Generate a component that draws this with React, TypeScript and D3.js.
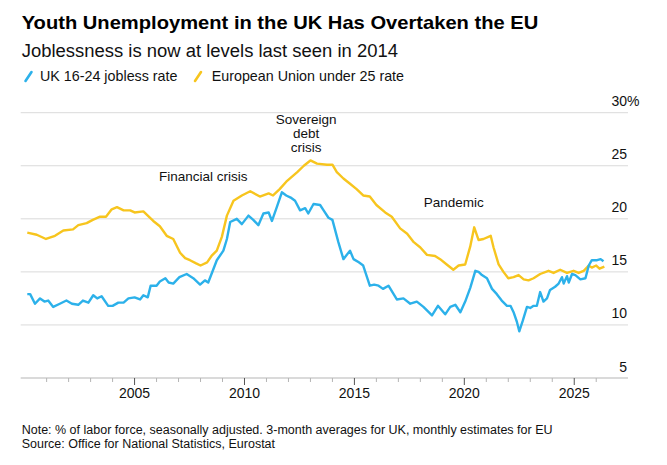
import * as d3 from 'd3'

// UK 16-24 jobless rate (decimal year, %)
const ukYears = [
  2000.12, 2000.25, 2000.47, 2000.7, 2000.9, 2001.07, 2001.3, 2001.6, 2001.9, 2002.15,
  2002.44, 2002.65, 2002.9, 2003.12, 2003.3, 2003.5, 2003.8, 2004.0, 2004.26, 2004.5,
  2004.72, 2005.0, 2005.25, 2005.4, 2005.6, 2005.73, 2006.0, 2006.15, 2006.4, 2006.55,
  2006.76, 2007.04, 2007.37, 2007.67, 2007.98, 2008.2, 2008.35, 2008.5, 2008.74, 2009.04,
  2009.2, 2009.35, 2009.65, 2009.88, 2010.18, 2010.4, 2010.63, 2010.86, 2011.1, 2011.25,
  2011.47, 2011.7, 2011.9, 2012.1, 2012.3, 2012.53, 2012.76, 2012.9, 2013.14, 2013.44,
  2013.6, 2013.82, 2014.0, 2014.27, 2014.5, 2014.8, 2014.96, 2015.2, 2015.4, 2015.7,
  2015.9, 2016.1, 2016.3, 2016.55, 2016.93, 2017.23, 2017.54, 2017.84, 2018.14, 2018.53,
  2018.8, 2019.13, 2019.36, 2019.59, 2019.82, 2020.04, 2020.27, 2020.5, 2020.65, 2020.8,
  2021.03, 2021.26, 2021.48, 2021.7, 2021.94, 2022.1, 2022.24, 2022.39, 2022.5, 2022.66,
  2022.85, 2023.0, 2023.15, 2023.3, 2023.45, 2023.6, 2023.76, 2023.9, 2024.13, 2024.29,
  2024.44, 2024.52, 2024.67, 2024.75, 2024.9, 2025.05, 2025.28, 2025.51, 2025.66, 2025.8,
  2026.04, 2026.2, 2026.33,
]
const ukRates = [
  12.9, 12.9, 12.0, 12.5, 12.2, 12.3, 11.7, 12.0, 12.3, 12.0,
  11.9, 12.3, 12.1, 12.8, 12.5, 12.7, 11.8, 11.8, 12.1, 12.1,
  12.5, 12.6, 12.4, 12.8, 12.6, 13.7, 13.7, 14.1, 14.4, 14.0,
  13.9, 14.5, 14.8, 14.4, 13.8, 14.2, 14.0, 14.8, 16.1, 17.0,
  18.1, 19.7, 20.0, 19.5, 20.3, 19.9, 19.4, 20.5, 20.6, 19.8,
  21.1, 22.5, 22.2, 22.0, 21.7, 20.8, 21.0, 20.5, 21.4, 21.3,
  20.8, 20.1, 19.9, 17.8, 16.2, 17.0, 16.2, 15.9, 15.6, 13.7,
  13.8, 13.7, 13.4, 13.7, 12.4, 12.5, 12.0, 12.2, 11.7, 10.9,
  11.8, 11.0, 11.7, 11.9, 11.2, 12.2, 13.5, 15.1, 15.0, 14.7,
  14.4, 13.4, 12.9, 12.3, 11.8, 11.8, 11.2, 10.3, 9.4, 10.4,
  11.7, 11.6, 11.8, 11.8, 13.1, 12.2, 12.5, 13.3, 13.6, 13.9,
  14.5, 13.9, 14.6, 14.0, 14.8, 14.7, 14.3, 14.4, 15.6, 16.1,
  16.1, 16.2, 16.0,
]

// European Union under 25 rate
const euYears = [
  2000.12, 2000.55, 2000.97, 2001.38, 2001.76, 2002.2, 2002.44, 2002.82, 2003.1, 2003.43,
  2003.7, 2003.96, 2004.2, 2004.5, 2004.8, 2005.0, 2005.4, 2005.6, 2005.85, 2006.15,
  2006.46, 2006.76, 2007.07, 2007.3, 2007.52, 2007.8, 2008.0, 2008.3, 2008.5, 2008.74,
  2008.97, 2009.2, 2009.5, 2009.88, 2010.26, 2010.7, 2011.1, 2011.3, 2011.6, 2011.9,
  2012.4, 2012.7, 2013.0, 2013.3, 2013.75, 2014.0, 2014.2, 2014.5, 2014.8, 2015.1,
  2015.4, 2015.7, 2016.0, 2016.4, 2016.7, 2017.08, 2017.4, 2017.7, 2018.0, 2018.3,
  2018.67, 2018.9, 2019.2, 2019.5, 2019.74, 2020.04, 2020.27, 2020.45, 2020.65, 2020.87,
  2021.2, 2021.33, 2021.56, 2021.78, 2022.0, 2022.24, 2022.47, 2022.7, 2022.92, 2023.15,
  2023.45, 2023.83, 2024.06, 2024.36, 2024.67, 2024.97, 2025.2, 2025.43, 2025.66, 2025.8,
  2026.0, 2026.15, 2026.37,
]
const euRates = [
  18.7, 18.5, 18.1, 18.4, 18.9, 19.0, 19.4, 19.6, 19.9, 20.2,
  20.2, 20.9, 21.1, 20.8, 20.8, 20.6, 20.7, 20.3, 19.8, 19.3,
  18.4, 18.1, 16.8, 16.3, 16.1, 15.8, 15.6, 15.9, 16.5, 17.0,
  18.3, 20.3, 21.7, 22.2, 22.6, 22.1, 22.4, 22.2, 22.8, 23.5,
  24.4, 25.0, 25.5, 25.2, 25.1, 25.1, 24.4, 23.8, 23.3, 22.8,
  22.2, 22.1, 21.3, 20.6, 20.2, 19.1, 18.6, 17.8, 17.3, 16.6,
  16.5, 16.2, 15.7, 15.2, 15.6, 15.7, 17.4, 19.2, 18.0, 18.1,
  18.4, 17.3, 15.7, 15.0, 14.4, 14.5, 14.7, 14.3, 14.2, 14.4,
  14.8, 15.1, 14.9, 15.2, 14.9, 15.1, 14.9, 15.1, 15.6, 15.4,
  15.6, 15.3, 15.5,
]

const yTicks = [10, 15, 20, 25, 30]
const yLabels = [5, 10, 15, 20, 25, 30]
const xLabels = [2005, 2010, 2015, 2020, 2025]
const minorYears = d3.range(2001, 2027)

const annotations = [
  { year: 2008.12, value: 23.56, lines: ['Financial crisis'] },
  { year: 2012.8, value: 28.93, lines: ['Sovereign', 'debt', 'crisis'] },
  { year: 2019.52, value: 21.08, lines: ['Pandemic'] },
]

const BLUE = '#2cb1ea'
const YELLOW = '#f7c51e'
const FONT = '"Liberation Sans", Arial, sans-serif'

export default function App() {
  const width = 667
  const height = 465
  const x = d3.scaleLinear([1999.82, 2027.4], [20.7, 627])
  const y = d3.scaleLinear([5, 30], [378, 112.7])

  const uk = ukYears.map((t, i) => [t, ukRates[i]] as [number, number])
  const eu = euYears.map((t, i) => [t, euRates[i]] as [number, number])
  const line = d3
    .line<[number, number]>()
    .x((d) => x(d[0]))
    .y((d) => y(d[1]))

  return (
    <svg
      width={width}
      height={height}
      style={{ position: 'fixed', left: 0, top: 0, background: '#fff' }}
      fontFamily={FONT}
    >
      <text
        x={21.7}
        y={29}
        fontSize={18.6}
        fontWeight="bold"
        fill="#000"
        textLength={516.6}
        lengthAdjust="spacingAndGlyphs"
      >
        Youth Unemployment in the UK Has Overtaken the EU
      </text>
      <text
        x={21.7}
        y={56.7}
        fontSize={18}
        fill="#111"
        textLength={376.3}
        lengthAdjust="spacingAndGlyphs"
      >
        Joblessness is now at levels last seen in 2014
      </text>

      <g strokeWidth={2.6} strokeLinecap="round">
        <line x1={25.5} y1={81} x2={31.5} y2={72} stroke={BLUE} />
        <line x1={195} y1={81} x2={201} y2={72} stroke={YELLOW} />
      </g>
      <g fontSize={14.3} fill="#111">
        <text x={40} y={81}>
          UK 16-24 jobless rate
        </text>
        <text x={211.7} y={81}>
          European Union under 25 rate
        </text>
      </g>

      <g stroke="#dadada" strokeWidth={1}>
        {yTicks.map((v) => (
          <line key={v} x1={x.range()[0]} x2={628} y1={y(v)} y2={y(v)} />
        ))}
      </g>
      <g fontSize={14} fill="#111" textAnchor="end">
        {yLabels.map((v) => (
          <text key={v} x={627} y={y(v) - 6.5}>
            {v}
          </text>
        ))}
        <text x={627} y={y(30) - 6.5} textAnchor="start">
          %
        </text>
      </g>

      <line x1={x.range()[0]} x2={628} y1={y(5)} y2={y(5)} stroke="#b5b5b5" />
      <g stroke="#b5b5b5">
        {minorYears.map((t) => (
          <line
            key={t}
            x1={x(t)}
            x2={x(t)}
            y1={y(5)}
            y2={y(5) + (t % 5 === 0 ? 7 : 4)}
            stroke={t % 5 === 0 ? '#555' : '#b5b5b5'}
          />
        ))}
      </g>
      <g fontSize={14} fill="#111" textAnchor="middle">
        {xLabels.map((t) => (
          <text key={t} x={x(t)} y={397.5}>
            {t}
          </text>
        ))}
      </g>

      <path d={line(eu) ?? undefined} fill="none" stroke={YELLOW} strokeWidth={2.4} strokeLinejoin="round" />
      <path d={line(uk) ?? undefined} fill="none" stroke={BLUE} strokeWidth={2.4} strokeLinejoin="round" />

      <g fontSize={13.5} fill="#111" textAnchor="middle">
        {annotations.map((a) => (
          <text key={a.lines[0]} x={x(a.year)} y={y(a.value)}>
            {a.lines.map((l, i) => (
              <tspan key={l} x={x(a.year)} dy={i === 0 ? 0 : 13.9}>
                {l}
              </tspan>
            ))}
          </text>
        ))}
      </g>

      <g fontSize={12.5} fill="#111">
        <text x={21.7} y={434.3}>
          Note: % of labor force, seasonally adjusted. 3-month averages for UK, monthly estimates for EU
        </text>
        <text x={21.7} y={448.3}>
          Source: Office for National Statistics, Eurostat
        </text>
      </g>
    </svg>
  )
}
